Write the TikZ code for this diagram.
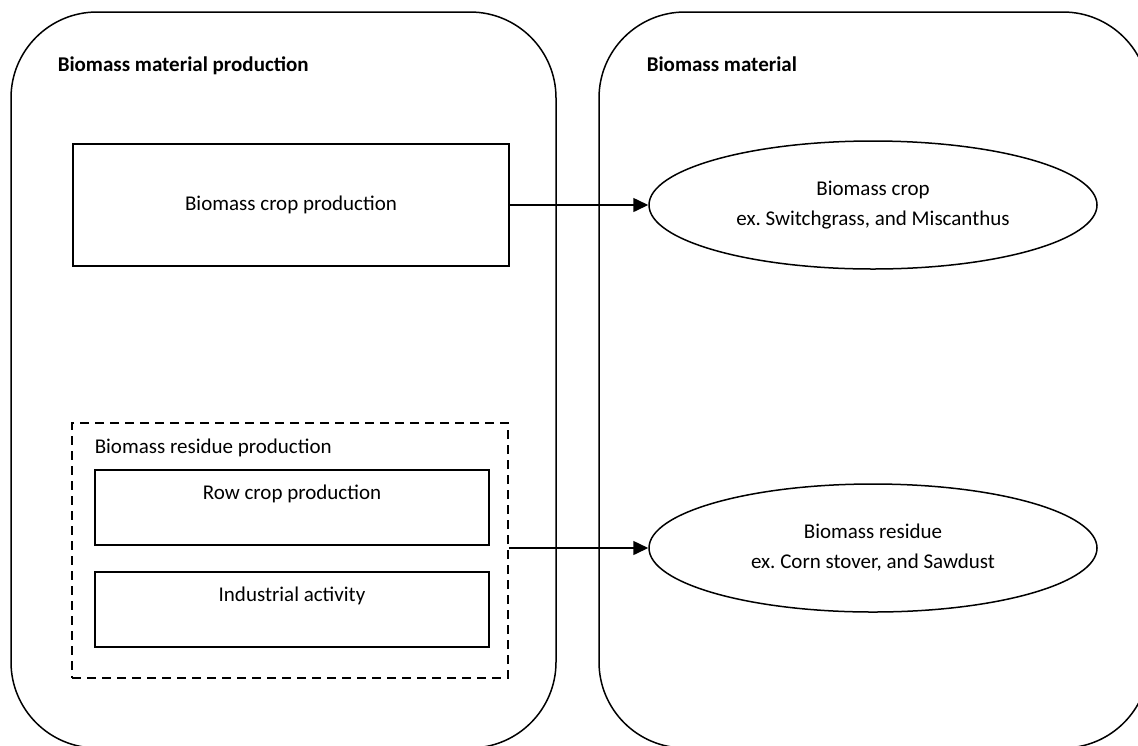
\documentclass[tikz,border=0pt]{standalone}
\usepackage{fontspec}
\setmainfont{Carlito}
\frenchspacing
\usepackage{tikz}
\usetikzlibrary{arrows.meta,shapes.geometric}

\begin{document}
\begin{tikzpicture}[x=0.5pt, y=-0.5pt, line width=0.75pt,
  font=\fontsize{10.5}{15}\selectfont,
  panel/.style={rounded corners=43pt},
  title/.style={anchor=base west, inner sep=0pt, font=\fontsize{10.5}{15}\selectfont\bfseries},
  source/.style={draw, anchor=north, minimum width=197pt, inner xsep=0pt, inner ysep=0pt,
                 text height=15pt, text depth=22.5pt},
  item/.style={draw, ellipse, minimum width=224pt, minimum height=64pt, inner sep=0pt, align=center},
  flow/.style={-{Triangle[length=7.5pt,width=7pt]}}]
\useasboundingbox (0,0) rectangle (1138,745);
\clip (0,0) rectangle (1138,745);

\draw[panel] (11,12) rectangle (556,748);
\draw[panel] (599,12) rectangle (1149,748);
\node[title] (prodtitle) at (57,71) {Biomass material production};
\node[title] (mattitle) at (646,71) {Biomass material};

\node[draw, minimum width=218pt, minimum height=61pt, inner sep=0pt] (crop) at (291,205) {Biomass crop production};

\node[draw, line width=1.2pt, dash pattern=on 4.5pt off 3pt,
      minimum width=218pt, minimum height=127.5pt, inner sep=0pt] (residue) at (290,550.5) {};
\node[anchor=base west, inner sep=0pt] (residuetitle) at (94,453) {Biomass residue production};
\node[source] (rowcrop) at (292,469) {Row crop production};
\node[source] (industry) at (292,571) {Industrial activity};

\node[item] (cropitem) at (873,205) {Biomass crop\\ex. Switchgrass, and Miscanthus};
\node[item] (residueitem) at (873,548) {Biomass residue\\ex. Corn stover, and Sawdust};

\draw[flow] (crop.east) -- (cropitem.west);
\draw[flow] (residueitem.west -| residue.east) -- (residueitem.west);
\end{tikzpicture}
\end{document}
